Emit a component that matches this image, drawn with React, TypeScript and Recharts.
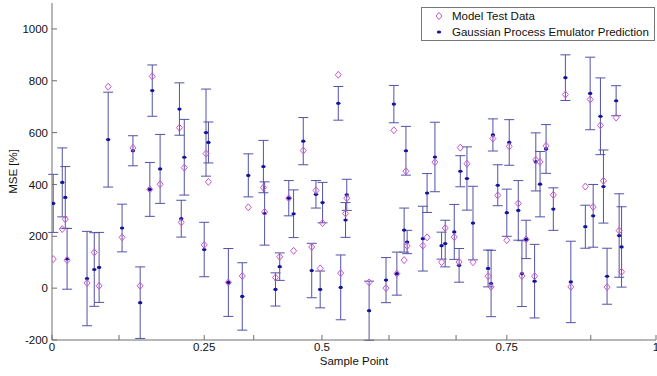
import { ScatterChart, Scatter, XAxis, YAxis, ErrorBar } from "recharts";

// sample positions on the x axis
const sampleX = [
  0.002, 0.017, 0.022, 0.025, 0.058, 0.07, 0.078, 0.093, 0.116, 0.134,
  0.146, 0.162, 0.166, 0.179, 0.211, 0.219, 0.214, 0.255, 0.259, 0.252,
  0.292, 0.315, 0.325, 0.35, 0.352, 0.37, 0.377, 0.392, 0.4, 0.416,
  0.43, 0.437, 0.444, 0.448, 0.474, 0.478, 0.486, 0.488, 0.525, 0.553,
  0.571, 0.566, 0.586, 0.583, 0.588, 0.614, 0.621, 0.634, 0.645, 0.651,
  0.666, 0.674, 0.676, 0.687, 0.697, 0.722, 0.727, 0.73, 0.738, 0.757,
  0.753, 0.772, 0.778, 0.785, 0.799, 0.801, 0.808, 0.818, 0.83, 0.85,
  0.859, 0.883, 0.891, 0.896, 0.908, 0.913, 0.919, 0.934, 0.939, 0.943
];

// model test data (diamonds)
const modelTest = [
  112, 228, 266, 108, 20, 138, 9, 777, 196, 541,
  9, 381, 817, 401, 619, 465, 254, 519, 410, 167,
  22, 47, 312, 388, 294, 41, 121, 347, 144, 531,
  159, 377, 76, 251, 823, 58, 288, 347, 22, 0,
  56, 609, 451, 108, 163, 164, 196, 486, 100, 232,
  197, 101, 542, 480, 100, 46, 5, 577, 358, 547,
  185, 327, 47, 188, 46, 495, 487, 549, 360, 747,
  5, 392, 728, 313, 628, 414, 4, 658, 222, 63
];

// gaussian process emulator mean
const gpMean = [
  327, 408, 350, 113, 37, 72, 80, 573, 232, 530,
  -56, 381, 762, 460, 691, 505, 268, 600, 562, 149,
  22, -32, 435, 469, 288, -5, 83, 347, 287, 567,
  68, 362, -5, 330, 713, 3, 263, 360, -87, 31,
  56, 710, 530, 224, 178, 191, 367, 506, 164, 172,
  217, 88, 451, 423, 251, 76, 18, 591, 397, 562,
  291, 300, 56, 188, 27, 487, 401, 537, 305, 812,
  24, 237, 751, 279, 663, 392, 46, 723, 203, 159
];

// half width of the error bars
const gpErr = [
  112, 133, 119, 117, 182, 142, 135, 183, 92, 58,
  138, 104, 99, 133, 101, 146, 71, 168, 79, 105,
  131, 130, 83, 101, 122, 64, 53, 68, 92, 91,
  105, 53, 71, 78, 65, 125, 67, 60, 114, 87,
  83, 72, 94, 85, 45, 125, 75, 134, 52, 90,
  106, 65, 60, 122, 142, 71, 128, 62, 79, 88,
  91, 115, 127, 74, 142, 112, 126, 94, 82, 88,
  157, 83, 140, 121, 148, 141, 108, 58, 161, 155
];

const xTicks = [0, 0.111, 0.252, 0.334, 0.447, 0.558, 0.669, 0.753, 0.892, 1];
const xTickLabels = ["0", "", "0.25", "", "0.5", "", "", "0.75", "", "1"];
const yTicks = [-200, 0, 200, 400, 600, 800, 1000];

const gpData = sampleX.map((x, i) => ({ x, y: gpMean[i], err: gpErr[i] }));
const testData = sampleX.map((x, i) => ({ x, y: modelTest[i] }));

const FONT = "'Liberation Sans', Arial, Helvetica, sans-serif";
const AXIS = "#6e6e6e";
const DIAMOND = "#cc55cc";
const DOT = "#14149a";
const BAR = "#5252a6";

function Diamond(props: any) {
  const { cx, cy } = props;
  if (cx == null || cy == null) return null;
  return (
    <path
      d={`M${cx} ${cy - 3.5} L${cx + 3} ${cy} L${cx} ${cy + 3.5} L${cx - 3} ${cy} Z`}
      fill="none"
      stroke={DIAMOND}
      strokeWidth={1}
    />
  );
}

function Dot(props: any) {
  const { cx, cy } = props;
  if (cx == null || cy == null) return null;
  return <ellipse cx={cx} cy={cy} rx={2.2} ry={1.6} fill={DOT} />;
}

function YTitle(props: any) {
  const vb = props.viewBox || { y: 3, height: 337 };
  const cx = 17;
  const cy = vb.y + vb.height / 2;
  return (
    <text
      x={cx}
      y={cy}
      transform={`rotate(-90 ${cx} ${cy})`}
      textAnchor="middle"
      fontSize={11.5}
      fontFamily={FONT}
      fill="#111"
    >
      MSE [%]
    </text>
  );
}

function LegendBox() {
  return (
    <div
      style={{
        position: "absolute",
        left: 421,
        top: 7,
        width: 234,
        height: 34,
        boxSizing: "border-box",
        border: "1px solid #777",
        background: "#fff",
        fontFamily: FONT,
        fontSize: 11.5,
        color: "#111",
        paddingTop: 0
      }}
    >
      <div style={{ display: "flex", alignItems: "center", height: 16 }}>
        <svg width={30} height={16} style={{ display: "block" }}>
          <path d="M17 4.5 L20 8 L17 11.5 L14 8 Z" fill="none" stroke={DIAMOND} />
        </svg>
        <span>Model Test Data</span>
      </div>
      <div style={{ display: "flex", alignItems: "center", height: 16 }}>
        <svg width={30} height={16} style={{ display: "block" }}>
          <ellipse cx={17} cy={8} rx={2.2} ry={1.6} fill={DOT} />
        </svg>
        <span>Gaussian Process Emulator Prediction</span>
      </div>
    </div>
  );
}

export default function App() {
  return (
    <div
      style={{
        position: "absolute",
        left: 0,
        top: 0,
        width: 657,
        height: 376,
        background: "#fff",
        overflow: "hidden"
      }}
    >
      <ScatterChart
        width={657}
        height={376}
        margin={{ top: 3, right: 1, bottom: 0, left: 0 }}
      >
        <XAxis
          type="number"
          dataKey="x"
          domain={[0, 1]}
          ticks={xTicks}
          interval={0}
          tickFormatter={(_v: number, i: number) => xTickLabels[i]}
          height={36}
          tickSize={-5}
          tickMargin={8}
          stroke={AXIS}
          tick={{ fill: "#111", fontSize: 11.5, fontFamily: FONT }}
          allowDataOverflow
          label={{
            value: "Sample Point",
            position: "insideBottom",
            offset: 11,
            fill: "#111",
            fontSize: 11.5,
            fontFamily: FONT
          }}
        />
        <XAxis
          xAxisId="top"
          orientation="top"
          type="number"
          domain={[0, 1]}
          ticks={xTicks}
          interval={0}
          height={0}
          tickSize={-5}
          tick={false}
          stroke={AXIS}
          allowDataOverflow
        />
        <YAxis
          type="number"
          dataKey="y"
          domain={[-200, 1100]}
          ticks={yTicks}
          interval={0}
          width={52}
          tickSize={-5}
          tickMargin={9}
          stroke={AXIS}
          tick={{ fill: "#111", fontSize: 11.5, fontFamily: FONT }}
          allowDataOverflow
          label={<YTitle />}
        />
        <YAxis
          yAxisId="right"
          orientation="right"
          type="number"
          domain={[-200, 1100]}
          ticks={yTicks}
          interval={0}
          width={0}
          tickSize={-5}
          tick={false}
          stroke={AXIS}
          allowDataOverflow
        />
        <Scatter
          name="Gaussian Process Emulator Prediction"
          data={gpData}
          shape={<Dot />}
          isAnimationActive={false}
        >
          <ErrorBar
            dataKey="err"
            direction="y"
            width={5}
            stroke={BAR}
            strokeWidth={1}
            isAnimationActive={false}
          />
        </Scatter>
        <Scatter
          name="Model Test Data"
          data={testData}
          shape={<Diamond />}
          isAnimationActive={false}
        />
      </ScatterChart>
      <LegendBox />
    </div>
  );
}
